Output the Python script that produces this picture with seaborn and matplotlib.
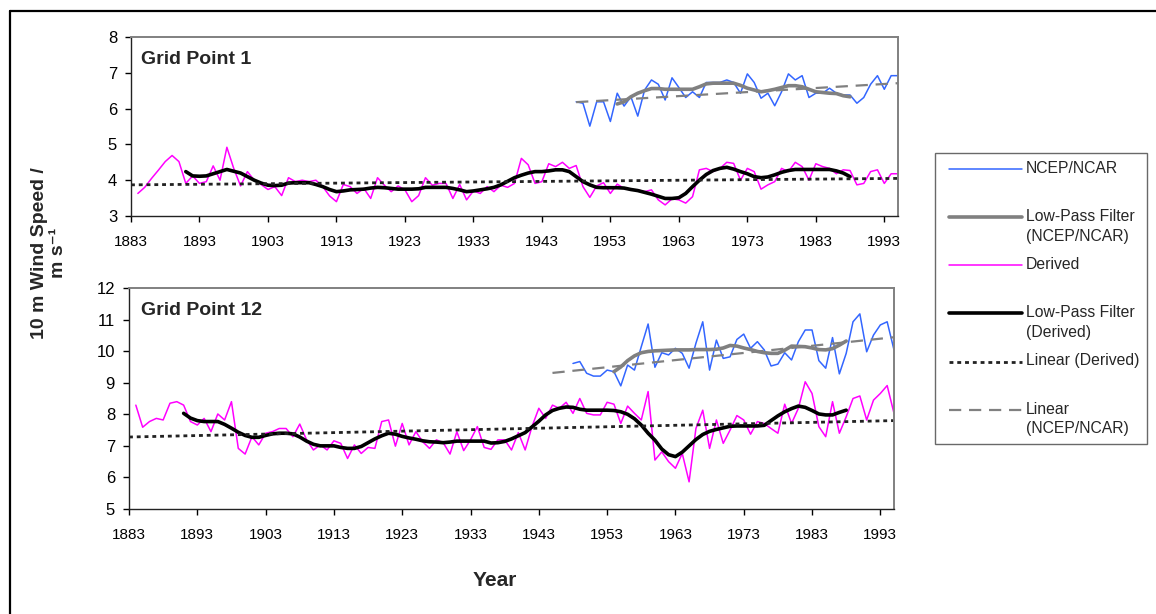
import numpy as np
import matplotlib
matplotlib.use("Agg")
import matplotlib.pyplot as plt
import seaborn as sns
from matplotlib.lines import Line2D
from matplotlib.legend_handler import HandlerLine2D

# ---- data ----
years_derived = np.arange(1884, 1996)
years_ncep = np.arange(1948, 1996)
years_lp_derived = np.arange(1891, 1989)
years_lp_ncep = np.arange(1954, 1989)

gp1_derived = [3.63, 3.80, 4.05, 4.28, 4.52, 4.69, 4.52, 3.91, 4.12, 3.91,
               3.96, 4.40, 4.00, 4.92, 4.33, 3.84, 4.24, 4.00, 3.88, 3.74,
               3.82, 3.57, 4.07, 3.96, 4.00, 3.96, 4.00, 3.82, 3.56, 3.40,
               3.88, 3.82, 3.63, 3.77, 3.49, 4.07, 3.86, 3.68, 3.84, 3.73,
               3.40, 3.57, 4.07, 3.86, 3.91, 3.91, 3.49, 3.88, 3.45, 3.70,
               3.63, 3.82, 3.68, 3.86, 3.80, 3.91, 4.61, 4.43, 3.91, 3.96,
               4.46, 4.38, 4.50, 4.33, 4.41, 3.82, 3.52, 3.84, 3.93, 3.63,
               3.89, 3.77, 3.73, 3.73, 3.68, 3.73, 3.45, 3.31, 3.48, 3.45,
               3.36, 3.54, 4.29, 4.33, 4.24, 4.33, 4.50, 4.47, 4.00, 4.33,
               4.24, 3.75, 3.87, 3.96, 4.33, 4.24, 4.50, 4.38, 4.00, 4.46,
               4.38, 4.33, 4.18, 4.29, 4.27, 3.87, 3.91, 4.24, 4.29, 3.91,
               4.18, 4.18]
gp1_ncep = [6.19, 6.15, 5.51, 6.19, 6.19, 5.64, 6.43, 6.07, 6.33, 5.79,
            6.52, 6.80, 6.68, 6.24, 6.86, 6.59, 6.31, 6.47, 6.31, 6.73,
            6.73, 6.73, 6.80, 6.73, 6.43, 6.97, 6.73, 6.29, 6.43, 6.08,
            6.47, 6.97, 6.80, 6.92, 6.31, 6.43, 6.43, 6.57, 6.43, 6.38,
            6.38, 6.15, 6.31, 6.68, 6.92, 6.54, 6.92, 6.92]
gp1_lp_derived = [4.24, 4.12, 4.11, 4.12, 4.18, 4.24, 4.30, 4.25, 4.20, 4.10,
                  4.00, 3.92, 3.86, 3.85, 3.86, 3.92, 3.93, 3.93, 3.93, 3.88,
                  3.82, 3.74, 3.68, 3.70, 3.73, 3.74, 3.75, 3.78, 3.80, 3.79,
                  3.77, 3.75, 3.75, 3.75, 3.76, 3.80, 3.80, 3.80, 3.80, 3.77,
                  3.73, 3.68, 3.70, 3.73, 3.76, 3.80, 3.87, 3.97, 4.07, 4.14,
                  4.20, 4.24, 4.24, 4.26, 4.29, 4.29, 4.24, 4.10, 3.96, 3.87,
                  3.80, 3.79, 3.79, 3.79, 3.78, 3.74, 3.71, 3.66, 3.61, 3.55,
                  3.49, 3.49, 3.51, 3.63, 3.82, 4.00, 4.16, 4.27, 4.33, 4.36,
                  4.31, 4.24, 4.18, 4.10, 4.07, 4.09, 4.15, 4.22, 4.27, 4.30,
                  4.30, 4.30, 4.30, 4.30, 4.30, 4.26, 4.20, 4.10]
gp1_lp_ncep = [6.13, 6.19, 6.33, 6.43, 6.50, 6.56, 6.56, 6.54, 6.54, 6.54,
               6.54, 6.54, 6.61, 6.69, 6.71, 6.71, 6.71, 6.71, 6.65, 6.57,
               6.52, 6.47, 6.50, 6.54, 6.59, 6.64, 6.64, 6.61, 6.54, 6.47,
               6.45, 6.43, 6.42, 6.36, 6.33]
gp1_lin_derived = ([1883, 1995], [3.87, 4.05])
gp1_lin_ncep = ([1948, 1995], [6.18, 6.71])

gp12_derived = [8.29, 7.59, 7.77, 7.87, 7.82, 8.35, 8.40, 8.29, 7.77, 7.66,
                7.87, 7.45, 8.01, 7.82, 8.40, 6.92, 6.74, 7.29, 7.03, 7.40,
                7.45, 7.55, 7.55, 7.29, 7.69, 7.19, 6.87, 7.03, 6.87, 7.16,
                7.08, 6.60, 7.03, 6.76, 6.95, 6.92, 7.77, 7.82, 6.99, 7.71,
                7.03, 7.45, 7.13, 6.92, 7.19, 7.10, 6.74, 7.45, 6.85, 7.19,
                7.61, 6.95, 6.89, 7.19, 7.19, 6.87, 7.42, 6.87, 7.61, 8.19,
                7.87, 8.29, 8.19, 8.38, 8.03, 8.50, 8.03, 7.98, 7.98, 8.38,
                8.32, 7.71, 8.26, 8.03, 7.82, 8.72, 6.55, 6.81, 6.50, 6.29,
                6.76, 5.86, 7.55, 8.13, 6.92, 7.82, 7.08, 7.50, 7.96, 7.82,
                7.37, 7.77, 7.71, 7.55, 7.40, 8.32, 7.71, 8.19, 9.03, 8.66,
                7.61, 7.29, 8.40, 7.40, 7.92, 8.50, 8.58, 7.82, 8.45, 8.66,
                8.91, 8.03]
gp12_ncep = [9.61, 9.67, 9.30, 9.21, 9.21, 9.40, 9.35, 8.90, 9.56, 9.40,
             10.14, 10.86, 9.49, 9.95, 9.88, 10.09, 9.93, 9.46, 10.25, 10.93,
             9.40, 10.35, 9.77, 9.82, 10.37, 10.54, 10.09, 10.30, 10.04, 9.53,
             9.59, 9.95, 9.72, 10.30, 10.67, 10.67, 9.70, 9.46, 10.43, 9.28,
             9.93, 10.93, 11.18, 9.98, 10.51, 10.83, 10.93, 10.04]
gp12_lp_derived = [8.03, 7.88, 7.80, 7.77, 7.77, 7.77, 7.68, 7.56, 7.43, 7.33,
                   7.27, 7.27, 7.33, 7.38, 7.40, 7.40, 7.38, 7.28, 7.15, 7.05,
                   7.00, 7.00, 7.00, 6.95, 6.92, 6.92, 6.98, 7.10, 7.22, 7.32,
                   7.40, 7.37, 7.30, 7.25, 7.21, 7.16, 7.13, 7.12, 7.10, 7.12,
                   7.15, 7.15, 7.15, 7.15, 7.15, 7.09, 7.10, 7.14, 7.22, 7.32,
                   7.42, 7.60, 7.78, 7.98, 8.12, 8.19, 8.23, 8.22, 8.16, 8.13,
                   8.13, 8.13, 8.13, 8.12, 8.08, 8.00, 7.86, 7.66, 7.40, 7.18,
                   6.90, 6.72, 6.66, 6.80, 7.00, 7.20, 7.36, 7.46, 7.52, 7.57,
                   7.62, 7.63, 7.63, 7.63, 7.63, 7.65, 7.80, 7.95, 8.08, 8.18,
                   8.26, 8.22, 8.12, 8.01, 7.98, 7.98, 8.06, 8.13]
gp12_lp_ncep = [9.35, 9.50, 9.70, 9.85, 9.95, 9.99, 10.01, 10.02, 10.03, 10.04,
                10.04, 10.04, 10.05, 10.05, 10.05, 10.06, 10.10, 10.18, 10.16, 10.10,
                10.05, 9.99, 9.95, 9.93, 9.93, 10.03, 10.16, 10.15, 10.14, 10.10,
                10.05, 10.04, 10.08, 10.19, 10.32]
gp12_lin_derived = ([1883, 1995], [7.28, 7.80])
gp12_lin_ncep = ([1945, 1995], [9.31, 10.44])

labels = ["NCEP/NCAR", "Low-Pass Filter\n(NCEP/NCAR)", "Derived",
          "Low-Pass Filter\n(Derived)", "Linear (Derived)", "Linear\n(NCEP/NCAR)"]
xticks = list(range(1883, 1994, 10))

# ---- styling ----
sns.set_style("ticks")
plt.rcParams["font.family"] = ["Liberation Sans", "DejaVu Sans"]

BLUE = "#3366ff"
MAGENTA = "#ff00ff"
GRAY = "#808080"

W, H = 1156, 614
fig = plt.figure(figsize=(W / 100, H / 100), dpi=100)
ax1 = fig.add_axes([131 / W, 1 - 216 / H, (898 - 131) / W, (216 - 37) / H])
ax2 = fig.add_axes([129 / W, 1 - 509 / H, (894 - 129) / W, (509 - 288) / H])


def draw_panel(ax, derived, ncep, lp_derived, lp_ncep, lin_derived, lin_ncep):
    handles = {}
    sns.lineplot(x=years_derived, y=derived, ax=ax, color=MAGENTA, linewidth=1.1)
    handles["Derived"] = ax.lines[-1]
    sns.lineplot(x=years_ncep, y=ncep, ax=ax, color=BLUE, linewidth=1.1)
    handles["NCEP/NCAR"] = ax.lines[-1]
    sns.lineplot(x=years_lp_ncep, y=lp_ncep, ax=ax, color=GRAY, linewidth=2.6)
    handles["Low-Pass Filter\n(NCEP/NCAR)"] = ax.lines[-1]
    sns.lineplot(x=years_lp_derived, y=lp_derived, ax=ax, color="black", linewidth=2.6)
    handles["Low-Pass Filter\n(Derived)"] = ax.lines[-1]
    sns.lineplot(x=lin_derived[0], y=lin_derived[1], ax=ax, color="#222222",
                 linewidth=2.0, linestyle=(0, (1.4, 1.4)))
    handles["Linear (Derived)"] = ax.lines[-1]
    sns.lineplot(x=lin_ncep[0], y=lin_ncep[1], ax=ax, color=GRAY,
                 linewidth=1.6, linestyle=(0, (5.5, 3.5)))
    handles["Linear\n(NCEP/NCAR)"] = ax.lines[-1]

    ax.set_xlim(1883, 1995)
    ax.set_xticks(xticks)
    ax.set_xlabel("")
    ax.set_ylabel("")
    for side in ["top", "right"]:
        ax.spines[side].set_visible(True)
        ax.spines[side].set_color(GRAY)
        ax.spines[side].set_linewidth(1.4)
    for side in ["left", "bottom"]:
        ax.spines[side].set_color("#222222")
        ax.spines[side].set_linewidth(1.0)
    ax.tick_params(axis="x", direction="out", length=4, width=1, pad=10,
                   labelsize=11, colors="black")
    ax.tick_params(axis="y", direction="out", length=4, width=1, pad=6,
                   labelsize=12, colors="black")
    return handles


h = draw_panel(ax1, gp1_derived, gp1_ncep, gp1_lp_derived, gp1_lp_ncep,
               gp1_lin_derived, gp1_lin_ncep)
ax1.set_ylim(3, 8)
ax1.set_yticks(range(3, 9))
ax1.text(0.013, 0.872, "Grid Point 1", transform=ax1.transAxes, fontsize=14,
         fontweight="bold", va="center", ha="left")

draw_panel(ax2, gp12_derived, gp12_ncep, gp12_lp_derived, gp12_lp_ncep,
           gp12_lin_derived, gp12_lin_ncep)
ax2.set_ylim(5, 12)
ax2.set_yticks(range(5, 13))
ax2.text(0.016, 0.896, "Grid Point 12", transform=ax2.transAxes, fontsize=14,
         fontweight="bold", va="center", ha="left")

fig.text(49 / W, 1 - 253 / H, "10 m Wind Speed /\nm s\u207b\u00b9", rotation=90,
         ha="center", va="center", multialignment="center", fontsize=14,
         fontweight="bold", linespacing=1.2)
fig.text(495 / W, 1 - 580 / H, "Year", ha="center", va="center", fontsize=15,
         fontweight="bold")


# legend: handle sits next to the first line of each label
class FirstLineHandler(HandlerLine2D):
    def __init__(self, lift, trim_left, trim_right, **kw):
        super().__init__(**kw)
        self.lift = lift
        self.trim_left = trim_left
        self.trim_right = trim_right

    def create_artists(self, legend, orig_handle, xdescent, ydescent, width,
                       height, fontsize, trans):
        arts = super().create_artists(legend, orig_handle, xdescent, ydescent,
                                      width, height, fontsize, trans)
        for a in arts:
            xd = np.asarray(a.get_xdata(), dtype=float)
            a.set_xdata(np.linspace(xd[0] + self.trim_left * fontsize,
                                    xd[-1] - self.trim_right * fontsize, len(xd)))
            a.set_ydata(np.asarray(a.get_ydata()) + self.lift * fontsize)
        return arts


leg_fs = 11.3
lsp = 1.4
leg_labels = [lab if "\n" in lab else lab + "\n" for lab in labels]
leg_handles = [h[lab] for lab in labels]
leg = fig.legend(leg_handles, leg_labels, loc="upper left",
                 bbox_to_anchor=(935 / W, 1 - 153 / H), borderaxespad=0,
                 fontsize=leg_fs, frameon=True, fancybox=False, shadow=False,
                 handlelength=5.3, handletextpad=0.0, borderpad=0.5,
                 labelspacing=0.85,
                 handler_map={hd: FirstLineHandler(0.62, 0.37, 0.25)
                              for hd in leg_handles})
leg.get_frame().set_edgecolor("#444444")
leg.get_frame().set_linewidth(1.0)
for t in leg.get_texts():
    t.set_linespacing(lsp)

# outer chart border (top and left only visible)
fig.add_artist(Line2D([10 / W, 1.0], [1 - 11 / H, 1 - 11 / H],
                      transform=fig.transFigure, color="black", linewidth=1.6))
fig.add_artist(Line2D([10 / W, 10 / W], [1 - 11 / H, 0.0],
                      transform=fig.transFigure, color="black", linewidth=1.6))

fig.savefig("out.png", dpi=100)
